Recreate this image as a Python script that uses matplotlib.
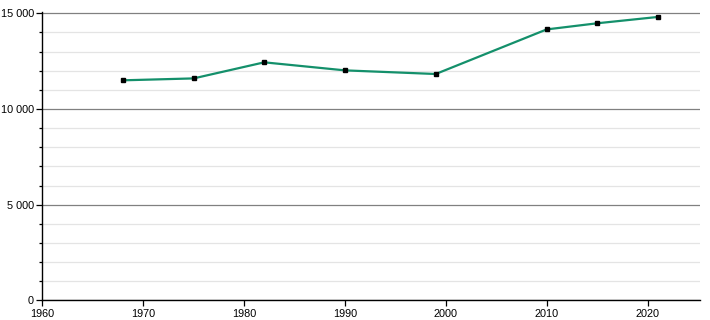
import matplotlib
matplotlib.use("Agg")
import matplotlib.pyplot as plt
from matplotlib.ticker import FuncFormatter, MultipleLocator

plt.rcParams["font.family"] = ["Liberation Sans", "DejaVu Sans"]

# population par recensement
years = [1968, 1975, 1982, 1990, 1999, 2010, 2015, 2021]
population = [11500, 11600, 12440, 12020, 11830, 14160, 14480, 14810]

x_ticks = [1960, 1970, 1980, 1990, 2000, 2010, 2020]
y_major = [0, 5000, 10000, 15000]


def fmt_thousands(v, pos):
    return f"{int(v):,}".replace(",", "\u00a0")


fig = plt.figure(figsize=(7.1, 3.2), dpi=100)
ax = fig.add_axes([42.3 / 710, 19.6 / 320, (700 - 42.3) / 710, (300.4 - 12) / 320])

ax.plot(years, population, color="#14906b", linewidth=1.6, zorder=3)
ax.plot(years, population, linestyle="none", marker="s", markersize=3.2,
        color="black", zorder=4)

ax.set_xlim(1960, 2025.2)
ax.set_ylim(0, 15070)

ax.set_xticks(x_ticks)
ax.set_yticks(y_major)
ax.yaxis.set_minor_locator(MultipleLocator(1000))
ax.yaxis.set_major_formatter(FuncFormatter(fmt_thousands))

ax.grid(axis="y", which="major", color="#808080", linewidth=0.9, zorder=1)
ax.grid(axis="y", which="minor", color="#e4e4e4", linewidth=0.9, zorder=0)
ax.set_axisbelow(True)

for side in ["top", "right"]:
    ax.spines[side].set_visible(False)
for side in ["left", "bottom"]:
    ax.spines[side].set_color("black")
    ax.spines[side].set_linewidth(1.0)

ax.tick_params(axis="both", which="major", length=4, width=0.9,
               labelsize=7.8, colors="black", pad=2)
ax.tick_params(axis="y", which="minor", length=2.5, width=0.9)

fig.savefig("out.png", dpi=100)
